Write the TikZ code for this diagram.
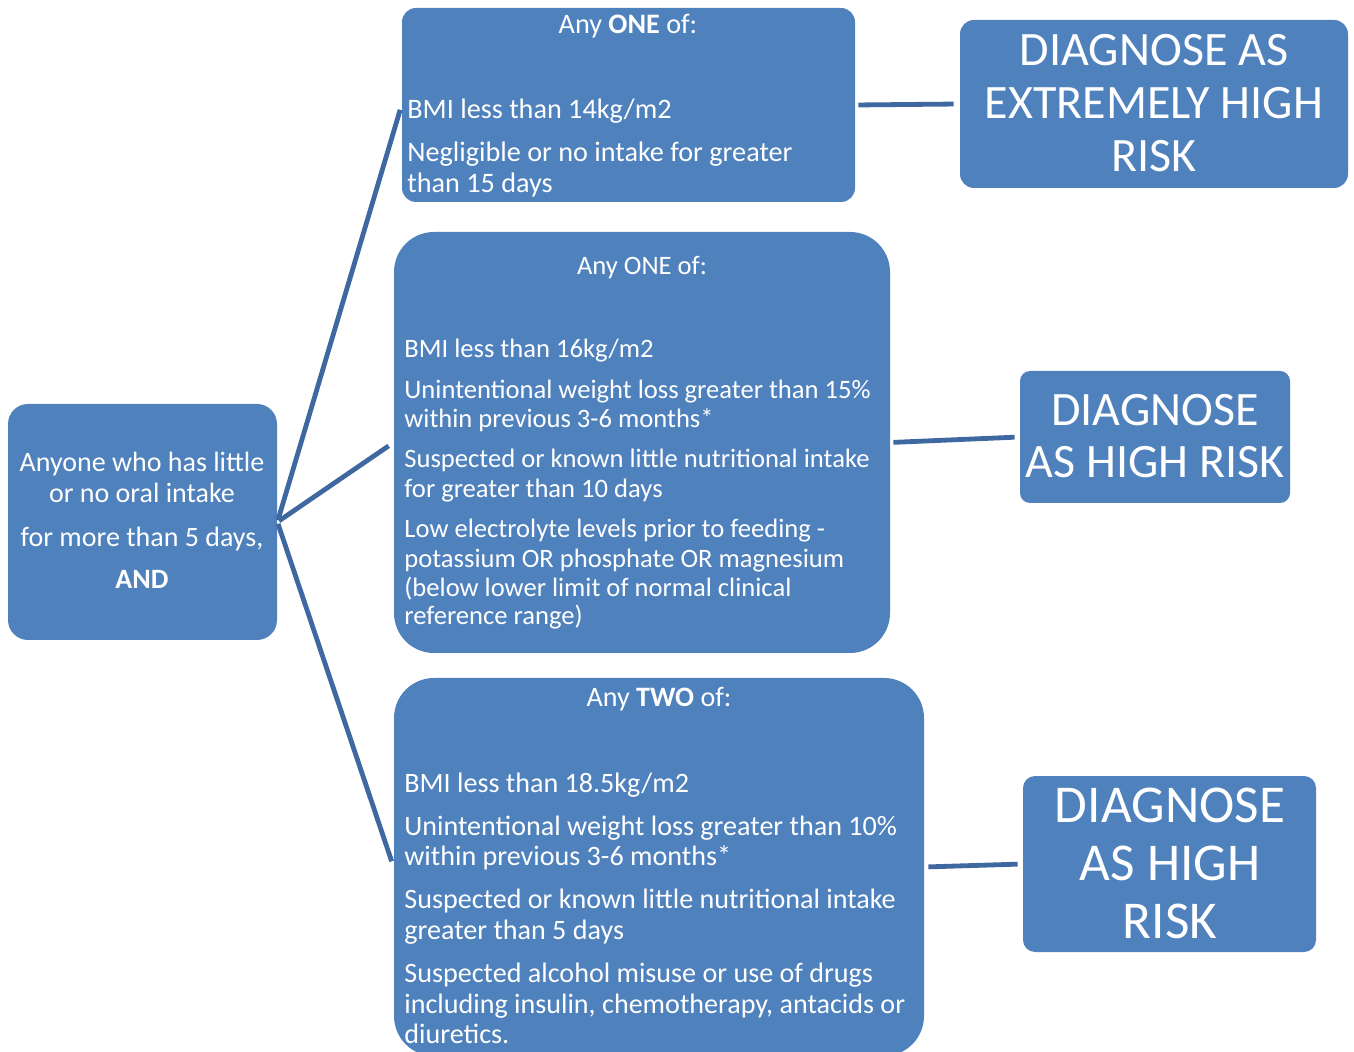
\documentclass[tikz,border=0pt]{standalone}
\usepackage{fontspec}
\setmainfont{Carlito}
\definecolor{boxblue}{HTML}{4F81BD}
\definecolor{linkblue}{RGB}{64,104,160}
\begin{document}
\begin{tikzpicture}[x=0.5pt,y=-0.5pt,
  box/.style={fill=boxblue, draw=none, rectangle, inner sep=0pt},
  link/.style={draw=linkblue, line width=2.4pt},
  txt/.style={text=white, inner sep=0pt, anchor=base west, font=\fontsize{13.3}{15}\selectfont},
  t1/.style={txt, font=\fontsize{14.1}{16}\selectfont},
  t3/.style={txt, font=\fontsize{14.05}{16}\selectfont},
  lt/.style={text=white, inner sep=0pt, anchor=base, font=\fontsize{14}{16}\selectfont},
  big/.style={text=white, inner sep=0pt, anchor=base, font=\fontsize{24}{28}\selectfont},
  bigg/.style={text=white, inner sep=0pt, anchor=base, font=\fontsize{26.6}{30}\selectfont},
]
\useasboundingbox (0,0) rectangle (1354,1052);

% boxes
\node[box, rounded corners=10pt, minimum width=134.5pt, minimum height=118pt] (lb) at (142.5,522) {};
\node[box, rounded corners=7pt, minimum width=226.5pt, minimum height=97pt] (b1) at (628.5,105) {};
\node[box, rounded corners=20pt, minimum width=248pt, minimum height=210.5pt] (b2) at (642,442.5) {};
\node[box, rounded corners=20pt, minimum width=265pt, minimum height=189pt] (b3) at (659,867) {};
\node[box, rounded corners=7pt, minimum width=194pt, minimum height=84pt] (d1) at (1154,104) {};
\node[box, rounded corners=5pt, minimum width=135pt, minimum height=66pt] (d2) at (1155,437) {};
\node[box, rounded corners=6pt, minimum width=146.5pt, minimum height=88pt] (d3) at (1169.5,864) {};

% connectors
\draw[link, shorten <=1pt, shorten >=2.5pt] (lb.east) -- (b1.west);
\draw[link, shorten <=1pt, shorten >=3pt] (lb.east) -- (b2.west);
\draw[link, shorten <=1pt, shorten >=3pt] (lb.east) -- (b3.west);
\draw[link, shorten <=1.5pt, shorten >=3pt] (b1.east) -- (d1.west);
\draw[link, shorten <=1.5pt, shorten >=2.5pt] (b2.east) -- (d2.west);
\draw[link, shorten <=2pt, shorten >=2.5pt] (b3.east) -- (d3.west);

% left box text
\node[lt] (l1) at (142,472) {Anyone who has little};
\node[lt] (l2) at (142,503) {or no oral intake};
\node[lt] (l3) at (142,547) {for more than 5 days,};
\node[lt] (l4) at (142,589) {\bfseries AND};

% box 1 text
\node[t1, anchor=base] (a0) at (628,34) {Any \textbf{ONE} of:};
\node[t1] (a1) at (407,119) {BMI less than 14kg/m2};
\node[t1] (a2) at (407,162) {Negligible or no intake for greater};
\node[t1] (a3) at (407,193) {than 15 days};

% box 2 text
\node[txt, anchor=base] (c0) at (642,275) {Any ONE of:};
\node[txt] (c1) at (404,358) {BMI less than 16kg/m2};
\node[txt] (c2) at (404,399) {Unintentional weight loss greater than 15\%};
\node[txt] (c3) at (404,428) {within previous 3-6 months*};
\node[txt] (c4) at (404,468) {Suspected or known little nutritional intake};
\node[txt] (c5) at (404,498) {for greater than 10 days};
\node[txt] (c6) at (404,538) {Low electrolyte levels prior to feeding -};
\node[txt] (c7) at (404,568) {potassium OR phosphate OR magnesium};
\node[txt] (c8) at (404,597) {(below lower limit of normal clinical};
\node[txt] (c9) at (404,625) {reference range)};

% box 3 text
\node[t3, anchor=base] (e0) at (659,706) {Any \textbf{TWO} of:};
\node[t3] (e1) at (404,792) {BMI less than 18.5kg/m2};
\node[t3] (e2) at (404,835) {Unintentional weight loss greater than 10\%};
\node[t3] (e3) at (404,865) {within previous 3-6 months*};
\node[t3] (e4) at (404,908) {Suspected or known little nutritional intake};
\node[t3] (e5) at (404,939) {greater than 5 days};
\node[t3] (e6) at (404,982) {Suspected alcohol misuse or use of drugs};
\node[t3] (e7) at (404,1013) {including insulin, chemotherapy, antacids or};
\node[t3] (e8) at (404,1043) {diuretics.};

% diagnose texts
\node[big] (g1) at (1154,66) {DIAGNOSE AS};
\node[big] (g2) at (1154,119) {EXTREMELY HIGH};
\node[big] (g3) at (1154,172) {RISK};
\node[big] (h1) at (1155,426) {DIAGNOSE};
\node[big] (h2) at (1155,478) {AS HIGH RISK};
\node[bigg] (k1) at (1170,822) {DIAGNOSE};
\node[bigg] (k2) at (1170,880) {AS HIGH};
\node[bigg] (k3) at (1170,938) {RISK};
\end{tikzpicture}
\end{document}
